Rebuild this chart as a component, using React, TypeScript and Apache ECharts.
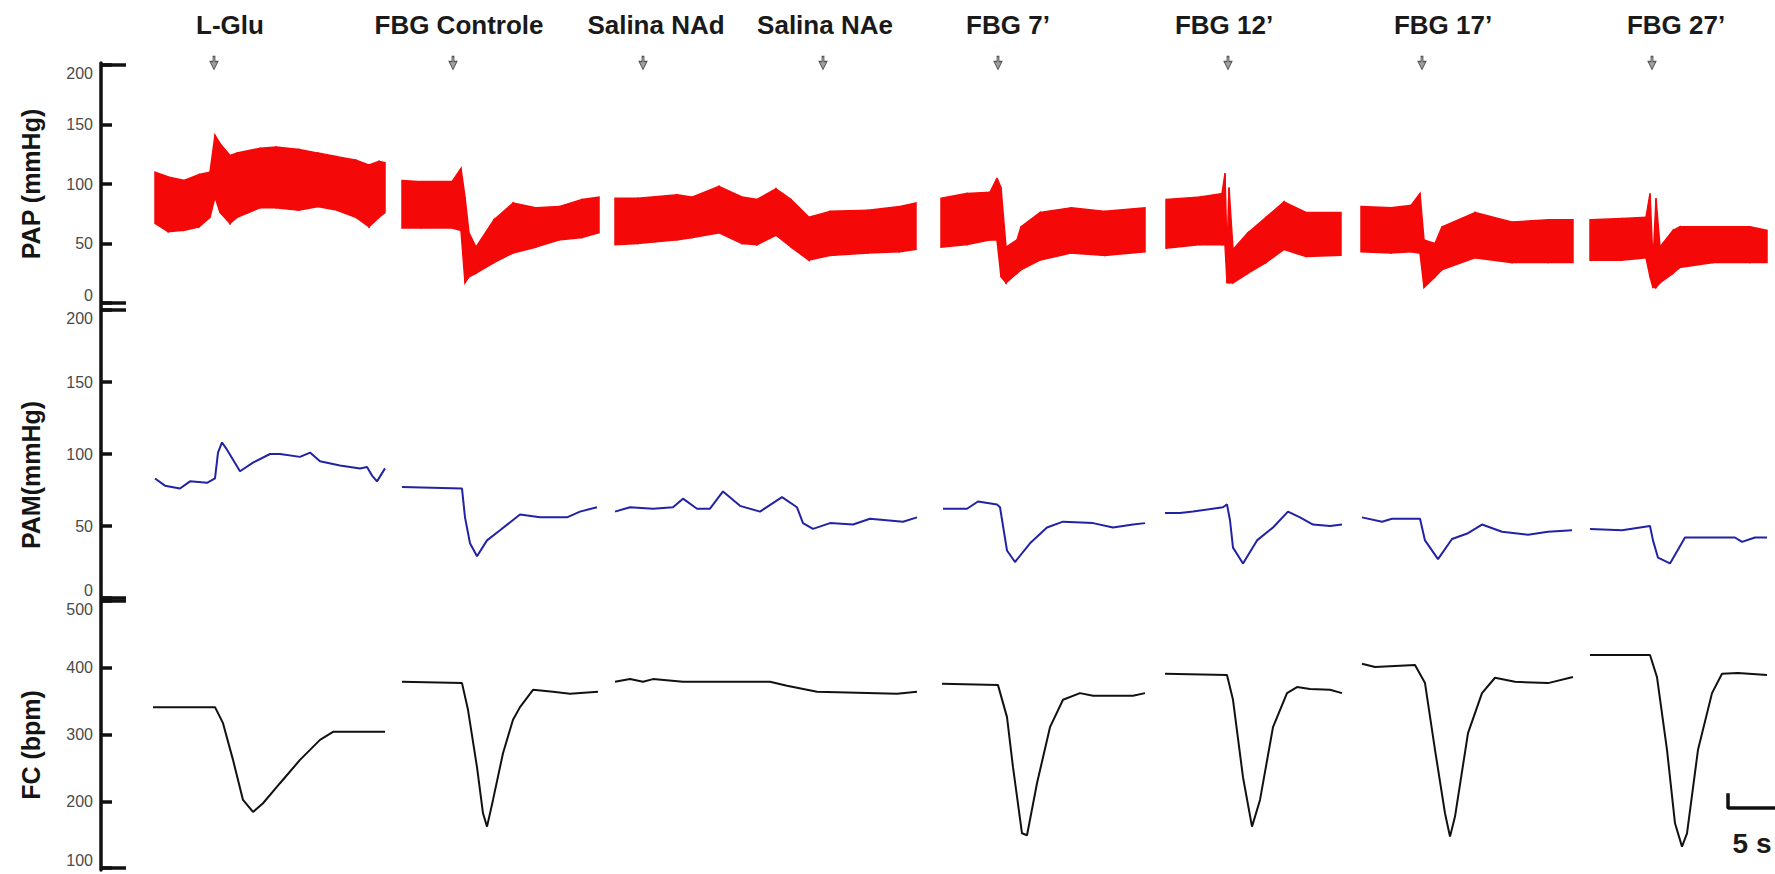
import React, { useEffect, useRef } from "react";
import * as echarts from "echarts";

// ---- time axis (seconds) ----
const T_MAX = 167.4;

// ---- events ----
const EVENT_NAMES = ["L-Glu", "FBG Controle", "Salina NAd", "Salina NAe", "FBG 7’", "FBG 12’", "FBG 17’", "FBG 27’"];
const EVENT_MARK_T = [11.3, 35.2, 54.2, 72.2, 89.7, 112.7, 132.1, 155.1];
const EVENT_LABEL_T = [12.9, 35.8, 55.5, 72.4, 90.7, 112.3, 134.2, 157.5];

// ---- tick labels ----
const PAP_TICKS = [0, 200, 50];
const PAM_TICKS = [0, 200, 50];
const FC_TICKS = [100, 500, 100];

// ---- PAP (mmHg): [t, diastolic, systolic] ----
const PAP_S1 = [[5.4, 67, 110], [6.7, 60, 106], [8.3, 61, 103], [9.8, 64, 108], [10.9, 72, 110], [11.4, 89, 141], [11.9, 76, 134], [12.9, 67, 124], [13.6, 72, 126], [15.9, 80, 130], [17.5, 80, 131], [19.8, 78, 129], [21.7, 81, 126], [23.6, 78, 123], [25.5, 72, 120], [26.8, 64, 116], [27.8, 72, 119], [28.4, 76, 118]];
const PAP_S2 = [[30.1, 63, 103], [32.0, 63, 102], [35.1, 63, 102], [36.0, 61, 113], [36.4, 17, 89], [36.8, 22, 59], [37.5, 25, 47], [39.3, 34, 70], [41.2, 42, 84], [43.5, 47, 80], [45.8, 53, 81], [48.1, 55, 87], [49.8, 59, 89]];
const PAP_S3 = [[51.4, 49, 88], [53.7, 50, 88], [57.6, 53, 91], [59.1, 55, 89], [61.8, 59, 98], [64.1, 50, 89], [65.6, 49, 87], [67.5, 57, 96], [69.0, 47, 87], [70.8, 36, 72], [72.9, 40, 77], [76.7, 42, 78], [79.8, 43, 81], [81.5, 45, 84]];
const PAP_S4 = [[84.0, 47, 88], [86.6, 49, 92], [88.9, 53, 93], [89.6, 53, 105], [90.0, 22, 97], [90.5, 17, 47], [91.6, 25, 53], [92.0, 28, 64], [93.9, 36, 76], [97.0, 42, 80], [100.4, 40, 77], [104.4, 43, 80]];
const PAP_S5 = [[106.5, 46, 87], [109.9, 49, 89], [112.1, 49, 92], [112.4, 49, 109], [112.6, 17, 42], [112.8, 17, 97], [113.2, 17, 45], [114.7, 25, 59], [116.5, 34, 72], [118.3, 45, 85], [120.5, 39, 76], [124.0, 40, 76]];
const PAP_S6 = [[126.0, 43, 81], [129.0, 42, 80], [131.0, 43, 82], [131.9, 42, 92], [132.3, 13, 53], [133.4, 22, 50], [134.1, 28, 64], [137.4, 38, 76], [141.1, 34, 68], [144.7, 34, 70], [147.2, 34, 70]];
const PAP_S7 = [[148.9, 36, 70], [152.1, 36, 71], [154.5, 38, 72], [154.9, 22, 92], [155.2, 13, 34], [155.5, 13, 88], [155.9, 17, 47], [157.2, 25, 61], [157.9, 30, 64], [161.2, 34, 64], [164.9, 34, 64], [166.6, 34, 61]];
const PAP_SEGMENTS = [PAP_S1, PAP_S2, PAP_S3, PAP_S4, PAP_S5, PAP_S6, PAP_S7];

// ---- PAM (mmHg): [t, value] ----
const PAM_S1 = [[5.4, 83], [6.4, 78], [7.9, 76], [8.9, 81], [10.6, 80], [11.4, 83], [11.7, 101], [12.1, 108], [12.6, 103], [13.9, 88], [15.2, 94], [16.9, 100], [17.9, 100], [19.9, 98], [20.9, 101], [21.9, 95], [23.9, 92], [25.9, 90], [26.6, 91], [27.1, 85], [27.6, 81], [28.4, 90]];
const PAM_S2 = [[30.1, 77], [36.1, 76], [36.4, 56], [36.9, 38], [37.6, 29], [38.6, 40], [39.9, 47], [41.9, 58], [43.9, 56], [46.6, 56], [47.9, 60], [49.6, 63]];
const PAM_S3 = [[51.4, 60], [52.9, 63], [55.2, 62], [57.2, 63], [58.2, 69], [59.6, 62], [60.9, 62], [62.2, 74], [63.9, 64], [65.9, 60], [68.1, 70], [69.6, 63], [70.2, 52], [71.2, 48], [72.9, 52], [75.2, 51], [76.9, 55], [80.2, 53], [81.6, 56]];
const PAM_S4 = [[84.2, 62], [86.6, 62], [87.7, 67], [89.6, 65], [89.9, 63], [90.6, 33], [91.4, 25], [92.9, 38], [94.6, 49], [96.2, 53], [99.2, 52], [101.2, 49], [103.2, 51], [104.4, 52]];
const PAM_S5 = [[106.4, 59], [107.9, 59], [109.2, 60], [112.2, 63], [112.6, 65], [112.9, 54], [113.2, 35], [114.2, 24], [115.6, 40], [117.2, 49], [118.7, 60], [119.9, 56], [121.2, 51], [122.9, 50], [124.1, 51]];
const PAM_S6 = [[126.1, 56], [128.1, 53], [129.1, 55], [131.9, 55], [132.4, 40], [133.7, 27], [135.1, 41], [136.7, 45], [138.1, 51], [140.1, 46], [142.7, 44], [144.7, 46], [147.1, 47]];
const PAM_S7 = [[148.9, 48], [152.1, 47], [154.9, 50], [155.2, 40], [155.7, 28], [156.9, 24], [158.4, 42], [160.7, 42], [163.4, 42], [164.1, 39], [165.4, 42], [166.6, 42]];
const PAM_SEGMENTS = [PAM_S1, PAM_S2, PAM_S3, PAM_S4, PAM_S5, PAM_S6, PAM_S7];

// ---- FC (bpm): [t, value] ----
const FC_S1 = [[5.2, 341], [11.4, 341], [12.2, 317], [13.2, 262], [14.2, 202], [15.2, 184], [16.2, 197], [17.9, 227], [19.9, 262], [21.9, 292], [23.2, 304], [28.4, 304]];
const FC_S2 = [[30.1, 379], [36.1, 377], [36.7, 337], [37.6, 251], [38.2, 182], [38.6, 162], [39.2, 202], [40.2, 272], [41.2, 322], [41.9, 341], [43.2, 367], [45.2, 364], [46.9, 361], [49.7, 364]];
const FC_S3 = [[51.4, 379], [52.9, 383], [54.2, 379], [55.2, 383], [58.2, 379], [66.9, 379], [68.6, 373], [71.6, 364], [79.6, 361], [81.6, 364]];
const FC_S4 = [[84.1, 376], [89.7, 374], [90.6, 326], [91.2, 251], [92.1, 152], [92.6, 149], [93.6, 227], [94.9, 311], [96.2, 352], [97.9, 362], [99.2, 358], [103.2, 358], [104.4, 362]];
const FC_S5 = [[106.4, 391], [112.6, 389], [113.2, 352], [114.2, 236], [115.1, 162], [115.9, 202], [117.2, 311], [118.6, 362], [119.6, 371], [120.9, 368], [122.9, 367], [124.1, 362]];
const FC_S6 = [[126.1, 406], [127.4, 401], [131.4, 404], [132.4, 377], [133.4, 277], [134.4, 182], [134.9, 147], [135.4, 177], [136.7, 302], [138.1, 362], [139.4, 385], [141.4, 379], [144.7, 377], [147.2, 386]];
const FC_S7 = [[148.9, 419], [154.9, 419], [155.6, 386], [156.6, 277], [157.4, 167], [158.1, 132], [158.6, 152], [159.7, 277], [161.1, 362], [162.1, 391], [163.7, 392], [166.6, 389]];
const FC_SEGMENTS = [FC_S1, FC_S2, FC_S3, FC_S4, FC_S5, FC_S6, FC_S7];

// ---- scale bar (5 s) in FC units ----
const SCALE_BAR_SECONDS = 5;
const SCALE_BAR_T0 = 162.7;
const SCALE_BAR_FC = [212, 190];
const SCALE_LABEL = "5 s";
const SCALE_LABEL_POS = [165.1, 137];

const AXIS_NAMES = ["PAP (mmHg)", "PAM(mmHg)", "FC (bpm)"];

const RED = "#f50808";
const BLUE = "#2222a4";
const BLACK = "#111111";
const LABEL_FONT = "'Liberation Sans', Arial, sans-serif";

function mainAxis(gridIndex: number, ticks: number[]) {
  return {
    type: "value",
    gridIndex,
    position: "left",
    min: ticks[0],
    max: ticks[1],
    interval: ticks[2],
    axisLine: { show: false },
    axisTick: { show: true, inside: true, length: 11, lineStyle: { color: BLACK, width: 3.5 } },
    axisLabel: {
      show: true, margin: 8, fontSize: 16, color: "#4a4a4a", fontFamily: LABEL_FONT,
      verticalAlignMinLabel: "bottom", verticalAlignMaxLabel: "top",
    },
    splitLine: { show: false },
  };
}

function endAxis(gridIndex: number, ticks: number[]) {
  return {
    type: "value",
    gridIndex,
    position: "left",
    offset: 0,
    min: ticks[0],
    max: ticks[1],
    axisLine: { show: false },
    axisTick: { show: true, inside: true, length: 25, customValues: [ticks[0], ticks[1]], lineStyle: { color: BLACK, width: 3.5 } },
    axisLabel: { show: false },
    splitLine: { show: false },
  };
}

export default function App() {
  const ref = useRef<HTMLDivElement>(null);

  useEffect(() => {
    if (!ref.current) return;
    const chart = echarts.init(ref.current, null, { renderer: "svg" });

    const papBand: number[][] = [];
    PAP_SEGMENTS.forEach((seg) => {
      for (let i = 0; i < seg.length - 1; i++) {
        const a = seg[i];
        const b = seg[i + 1];
        papBand.push([a[0], a[1], a[2], b[0], b[1], b[2]]);
      }
    });

    const series: any[] = [];
    series.push({
      type: "custom",
      xAxisIndex: 0,
      yAxisIndex: 0,
      encode: { x: [0, 3], y: [1, 2, 4, 5] },
      data: papBand,
      renderItem: (_p: any, api: any) => {
        const t1 = api.value(0), lo1 = api.value(1), hi1 = api.value(2);
        const t2 = api.value(3), lo2 = api.value(4), hi2 = api.value(5);
        const pts = [api.coord([t1, hi1]), api.coord([t2, hi2]), api.coord([t2, lo2]), api.coord([t1, lo1])];
        return { type: "polygon", shape: { points: pts }, style: { fill: RED, stroke: RED, lineWidth: 1.5 } };
      },
    });
    PAM_SEGMENTS.forEach((seg) => {
      series.push({
        type: "line", xAxisIndex: 1, yAxisIndex: 1, data: seg, symbol: "none",
        lineStyle: { color: BLUE, width: 2 },
      });
    });
    FC_SEGMENTS.forEach((seg) => {
      series.push({
        type: "line", xAxisIndex: 2, yAxisIndex: 2, data: seg, symbol: "none",
        lineStyle: { color: BLACK, width: 2 },
      });
    });
    // event markers
    series.push({
      type: "scatter", xAxisIndex: 0, yAxisIndex: 0, clip: false,
      data: EVENT_MARK_T.map((t) => [t, PAP_TICKS[1]]),
      symbol: "path://M3,0 L5,0 L5,5 L8,5 L4,13 L0,5 L3,5 Z",
      symbolSize: [8, 13],
      symbolOffset: [0, -2],
      itemStyle: { color: "#a0a0a0", borderColor: "#555", borderWidth: 1, opacity: 1 },
      silent: true,
    });
    // event labels
    series.push({
      type: "scatter", xAxisIndex: 0, yAxisIndex: 0, clip: false,
      data: EVENT_NAMES.map((n, i) => ({ name: n, value: [EVENT_LABEL_T[i], PAP_TICKS[1]] })),
      symbolSize: 1,
      itemStyle: { color: "rgba(0,0,0,0)", opacity: 1 },
      label: {
        show: true, position: "inside", offset: [0, -40], formatter: "{b}",
        fontSize: 26, fontWeight: "bold", color: "#1a1a1a", fontFamily: LABEL_FONT,
      },
      silent: true,
    });
    // scale bar
    series.push({
      type: "line", xAxisIndex: 2, yAxisIndex: 2, symbol: "none",
      data: [[SCALE_BAR_T0, SCALE_BAR_FC[0]], [SCALE_BAR_T0, SCALE_BAR_FC[1]], [SCALE_BAR_T0 + SCALE_BAR_SECONDS, SCALE_BAR_FC[1]]],
      lineStyle: { color: BLACK, width: 3.5 },
    });
    series.push({
      type: "scatter", xAxisIndex: 2, yAxisIndex: 2, clip: false,
      data: [{ name: SCALE_LABEL, value: SCALE_LABEL_POS }],
      symbolSize: 1, itemStyle: { color: "rgba(0,0,0,0)", opacity: 1 },
      label: { show: true, position: "inside", formatter: "{b}", fontSize: 28, fontWeight: "bold", color: "#1a1a1a", fontFamily: LABEL_FONT },
      silent: true,
    });

    const grids = [
      { left: 101, width: 1674, top: 65, height: 238 },
      { left: 101, width: 1674, top: 310, height: 288 },
      { left: 101, width: 1674, top: 601, height: 267 },
      { left: 101, width: 1674, top: 63, height: 807 },
    ];

    const xAxes = grids.map((_g, i) => ({ type: "value", gridIndex: i, min: 0, max: T_MAX, show: false }));

    const yAxes: any[] = [
      mainAxis(0, PAP_TICKS),
      mainAxis(1, PAM_TICKS),
      mainAxis(2, FC_TICKS),
      endAxis(0, PAP_TICKS),
      endAxis(1, PAM_TICKS),
      endAxis(2, FC_TICKS),
      {
        type: "value", gridIndex: 3, position: "left", min: 0, max: 1,
        axisLine: { show: true, lineStyle: { color: BLACK, width: 3.5 } },
        axisTick: { show: false }, axisLabel: { show: false }, splitLine: { show: false },
      },
    ];

    const namePos = [[31, 184], [31, 475], [31, 745]];
    const graphic = AXIS_NAMES.map((n, i) => ({
      type: "text",
      x: namePos[i][0],
      y: namePos[i][1],
      rotation: Math.PI / 2,
      style: {
        text: n, fontSize: 25, fontWeight: "bold", fill: "#151515", fontFamily: LABEL_FONT,
        textAlign: "center", textVerticalAlign: "middle",
      },
      silent: true,
    }));

    chart.setOption({
      animation: false,
      backgroundColor: "#ffffff",
      grid: grids,
      xAxis: xAxes,
      yAxis: yAxes,
      series,
      graphic,
    });

    return () => chart.dispose();
  }, []);

  return (
    <div
      ref={ref}
      style={{ position: "absolute", left: 0, top: 0, width: 1775, height: 874 }}
    />
  );
}
